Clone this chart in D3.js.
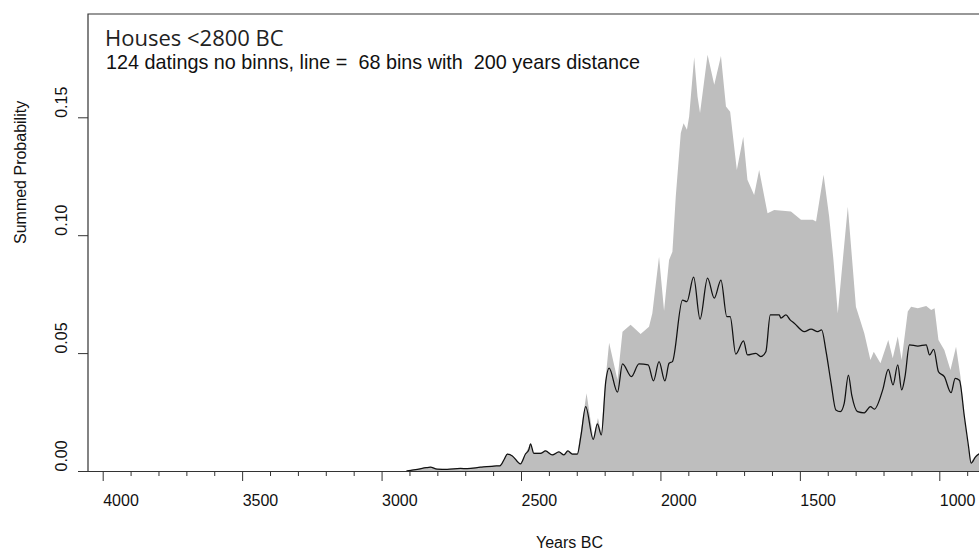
<!DOCTYPE html>
<html>
<head>
<meta charset="utf-8">
<script src="https://cdn.jsdelivr.net/npm/d3@7"></script>
<style>
  html, body { margin: 0; padding: 0; background: #fff; }
  svg { display: block; }
</style>
</head>
<body>
<svg id="chart" width="979" height="554"></svg>
<script>
// ---- data ----
const titleText = "Houses <2800 BC";
const subtitleText = "124 datings no binns, line =  68 bins with  200 years distance";
const xLabel = "Years BC";
const yLabel = "Summed Probability";

const xMajorTicks = [4000, 3500, 3000, 2500, 2000, 1500, 1000];
const xMinorTicks = [3900, 3800, 3700, 3600, 3400, 3300, 3200, 3100, 2900, 2800, 2700, 2600,
                     2400, 2300, 2200, 2100, 1900, 1800, 1700, 1600, 1400, 1300, 1200, 1100, 900];
const yTicks = [0.00, 0.05, 0.10, 0.15];
const yTickLabels = ["0.00", "0.05", "0.10", "0.15"];

// grey summed probability (no bins)
const envYears = [2911, 2895, 2872, 2840, 2825, 2801, 2765, 2717, 2693, 2645, 2597, 2576, 2560, 2549,
  2531, 2502, 2484, 2466, 2454, 2430, 2412, 2388, 2364, 2346, 2332, 2316, 2298, 2285, 2265, 2241,
  2224, 2212, 2196, 2184, 2154, 2136, 2107, 2071, 2041, 2029, 2005, 1987, 1969, 1957, 1945, 1927,
  1917, 1905, 1897, 1879, 1867, 1858, 1831, 1807, 1783, 1765, 1750, 1726, 1703, 1688, 1664, 1646,
  1616, 1592, 1532, 1496, 1454, 1442, 1415, 1395, 1380, 1364, 1328, 1299, 1269, 1247, 1235, 1211,
  1183, 1167, 1149, 1135, 1113, 1101, 1077, 1047, 1029, 1017, 1003, 982, 960, 940, 924, 910, 898,
  886, 870, 853];
const envValues = [0.0000, 0.0004, 0.0009, 0.0016, 0.0018, 0.0010, 0.0009, 0.0013, 0.0012, 0.0018,
  0.0023, 0.0024, 0.0052, 0.0075, 0.0066, 0.0032, 0.0074, 0.0118, 0.0078, 0.0078, 0.0088, 0.0071,
  0.0084, 0.0071, 0.0088, 0.0075, 0.0075, 0.0170, 0.0330, 0.0140, 0.0225, 0.0160, 0.0400, 0.0544,
  0.0386, 0.0591, 0.0620, 0.0581, 0.0612, 0.0669, 0.0909, 0.0680, 0.0895, 0.0930, 0.1164, 0.1433,
  0.1475, 0.1447, 0.1503, 0.1755, 0.1588, 0.1518, 0.1765, 0.1638, 0.1760, 0.1546, 0.1524, 0.1277,
  0.1418, 0.1235, 0.1171, 0.1277, 0.1093, 0.1107, 0.1100, 0.1065, 0.1065, 0.1058, 0.1256, 0.1079,
  0.0900, 0.0669, 0.1121, 0.0697, 0.0584, 0.0471, 0.0506, 0.0457, 0.0556, 0.0478, 0.0570, 0.0471,
  0.0676, 0.0697, 0.0690, 0.0700, 0.0683, 0.0690, 0.0556, 0.0513, 0.0428, 0.0527, 0.0400, 0.0230,
  0.0117, 0.0040, 0.0065, 0.0080];

// black line (68 bins, 200 years distance)
const lineYears = [2911, 2895, 2872, 2840, 2825, 2801, 2765, 2717, 2693, 2645, 2597, 2576, 2560, 2549,
  2531, 2502, 2484, 2472, 2466, 2454, 2430, 2412, 2388, 2364, 2346, 2332, 2316, 2298, 2285, 2268,
  2241, 2226, 2212, 2196, 2184, 2154, 2136, 2104, 2077, 2044, 2025, 2005, 1984, 1969, 1957, 1921,
  1905, 1881, 1858, 1831, 1807, 1783, 1762, 1750, 1730, 1702, 1688, 1658, 1640, 1622, 1606, 1574,
  1568, 1550, 1535, 1520, 1484, 1460, 1436, 1422, 1406, 1388, 1371, 1355, 1341, 1326, 1314, 1293,
  1269, 1247, 1233, 1203, 1183, 1166, 1149, 1135, 1123, 1107, 1077, 1047, 1035, 1020, 1003, 982,
  958, 943, 928, 910, 895, 886, 870, 853];
const lineValues = [0.0000, 0.0003, 0.0007, 0.0014, 0.0016, 0.0008, 0.0007, 0.0011, 0.0010, 0.0016,
  0.0021, 0.0022, 0.0050, 0.0072, 0.0064, 0.0030, 0.0072, 0.0090, 0.0115, 0.0075, 0.0075, 0.0085,
  0.0068, 0.0081, 0.0068, 0.0085, 0.0072, 0.0072, 0.0150, 0.0273, 0.0134, 0.0200, 0.0153, 0.0380,
  0.0436, 0.0334, 0.0454, 0.0400, 0.0454, 0.0450, 0.0382, 0.0464, 0.0382, 0.0457, 0.0464, 0.0725,
  0.0718, 0.0822, 0.0644, 0.0818, 0.0733, 0.0810, 0.0655, 0.0655, 0.0496, 0.0552, 0.0492, 0.0499,
  0.0485, 0.0506, 0.0662, 0.0662, 0.0648, 0.0662, 0.0641, 0.0627, 0.0591, 0.0602, 0.0591, 0.0598,
  0.0506, 0.0372, 0.0259, 0.0252, 0.0287, 0.0407, 0.0322, 0.0252, 0.0247, 0.0273, 0.0262, 0.0344,
  0.0431, 0.0365, 0.0450, 0.0344, 0.0400, 0.0535, 0.0530, 0.0535, 0.0492, 0.0516, 0.0421, 0.0400,
  0.0332, 0.0393, 0.0385, 0.0230, 0.0103, 0.0033, 0.0060, 0.0075];

// ---- layout ----
const plotLeft = 88, plotTop = 14, plotBottom = 471, plotRight = 1060;
const svg = d3.select("#chart");

const x = d3.scaleLinear().domain([4000, 1000]).range([102.7, 939.3]);
const y = d3.scaleLinear().domain([0, 0.15]).range([plotBottom, 117.3]);

svg.append("clipPath").attr("id", "clip")
  .append("rect").attr("x", plotLeft).attr("y", plotTop)
  .attr("width", plotRight - plotLeft).attr("height", plotBottom - plotTop);

const envData = envYears.map((yr, i) => ({yr, v: envValues[i]}));
const lineData = lineYears.map((yr, i) => ({yr, v: lineValues[i]}));

const g = svg.append("g").attr("clip-path", "url(#clip)");
g.append("path").datum(envData)
  .attr("fill", "#bebebe")
  .attr("d", d3.area().x(d => x(d.yr)).y0(y(0)).y1(d => y(d.v)));
g.append("path").datum(lineData)
  .attr("fill", "none").attr("stroke", "#111").attr("stroke-width", 1.25)
  .attr("stroke-linejoin", "round")
  .attr("d", d3.line().curve(d3.curveMonotoneX).x(d => x(d.yr)).y(d => y(d.v)));

// box (top + left; right side is outside the picture)
svg.append("path")
  .attr("d", `M${plotLeft},${plotBottom} V${plotTop} H${plotRight}`)
  .attr("fill", "none").attr("stroke", "#333").attr("stroke-width", 1.2);

// x axis
const axisFont = "'Liberation Sans', Arial, sans-serif";
const xAxisMajor = svg.append("g").attr("transform", `translate(0,${plotBottom})`)
  .call(d3.axisBottom(x).tickValues(xMajorTicks).tickSize(10).tickPadding(14)
    .tickFormat(d3.format("d")).tickSizeOuter(0));
xAxisMajor.select(".domain").attr("d", `M78,0.5H979`).attr("stroke", "#333").attr("stroke-width", 1.2);
xAxisMajor.selectAll(".tick line").attr("stroke", "#333");
xAxisMajor.selectAll(".tick text")
  .attr("text-anchor", "start").attr("x", 0).attr("dy", "0.71em")
  .style("font-family", axisFont).style("font-size", "16px").attr("fill", "#111");

const xAxisMinor = svg.append("g").attr("transform", `translate(0,${plotBottom})`)
  .call(d3.axisBottom(x).tickValues(xMinorTicks).tickSize(5).tickFormat(""));
xAxisMinor.select(".domain").remove();
xAxisMinor.selectAll(".tick line").attr("stroke", "#333");

// y axis
const yAxis = svg.append("g").attr("transform", `translate(${plotLeft},0)`)
  .call(d3.axisLeft(y).tickValues(yTicks).tickSize(10)
    .tickFormat((d, i) => yTickLabels[i]).tickSizeOuter(0));
yAxis.select(".domain").remove();
yAxis.selectAll(".tick line").attr("stroke", "#333");
yAxis.selectAll(".tick text")
  .attr("x", null).attr("dy", null)
  .attr("text-anchor", "start")
  .attr("transform", "translate(-21,0) rotate(-90)")
  .style("font-family", axisFont).style("font-size", "16px").attr("fill", "#111");

// axis titles
svg.append("text").text(xLabel)
  .attr("x", 536).attr("y", 548)
  .style("font-family", axisFont).style("font-size", "16px").attr("fill", "#111");
svg.append("text").text(yLabel)
  .attr("transform", "translate(26,244) rotate(-90)")
  .style("font-family", axisFont).style("font-size", "16px").attr("fill", "#111");

// titles
svg.append("text").text(titleText)
  .attr("x", 105).attr("y", 46)
  .style("font-family", "'Open Sans', 'Noto Sans', sans-serif").style("font-size", "22px").attr("fill", "#222");
svg.append("text").text(subtitleText)
  .attr("x", 106).attr("y", 69).attr("xml:space", "preserve").style("white-space", "pre")
  .style("font-family", axisFont).style("font-size", "19.8px").attr("fill", "#111");
</script>
</body>
</html>
